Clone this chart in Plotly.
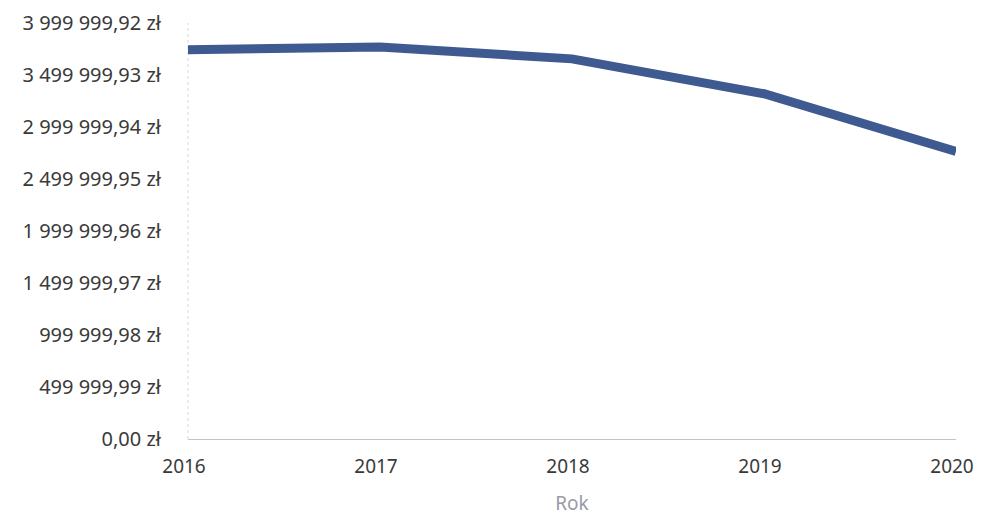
import plotly.graph_objects as go

years = [2016, 2017, 2018, 2019, 2020]
values = [3742000, 3770000, 3655000, 3320000, 2766000]
y_max = 3999999.92
tick_vals = [y_max * i / 8 for i in range(9)]
tick_text = ["0,00 zł", "499 999,99 zł", "999 999,98 zł", "1 499 999,97 zł",
             "1 999 999,96 zł", "2 499 999,95 zł", "2 999 999,94 zł",
             "3 499 999,93 zł", "3 999 999,92 zł"]

fig = go.Figure()
fig.add_trace(go.Scatter(
    x=years, y=values, mode="lines",
    line=dict(color="#3e5a90", width=9),
    hoverinfo="skip", showlegend=False,
))

fig.add_shape(type="line", xref="x domain", yref="y domain", x0=0, x1=0, y0=0, y1=1,
              line=dict(color="#d8d8d8", width=1, dash="dot"), layer="below")

fig.update_layout(
    width=975, height=508,
    margin=dict(l=180, r=27, t=15, b=77, autoexpand=False),
    paper_bgcolor="white", plot_bgcolor="white",
    font=dict(family="Noto Sans", size=20, color="#3a3a3a"),
    xaxis=dict(
        range=[2016, 2020], tickvals=years, ticktext=[str(y) for y in years],
        showgrid=False, zeroline=False, showline=True, linecolor="#c4c4c4", linewidth=1,
        ticks="outside", ticklen=10, tickcolor="rgba(0,0,0,0)", automargin=False,
        tickfont=dict(size=19), ticklabeloverflow="allow", ticklabelshift=-4,
        title=dict(text="Rok", font=dict(color="#9a9aa6", size=19), standoff=25),
    ),
    yaxis=dict(
        range=[0, y_max], tickvals=tick_vals, ticktext=tick_text,
        showgrid=False, zeroline=False, showline=False, automargin=False,
        ticks="outside", ticklen=22, tickcolor="rgba(0,0,0,0)",
        tickfont=dict(size=20), ticklabeloverflow="allow",
    ),
)

fig.write_html("out.html")
